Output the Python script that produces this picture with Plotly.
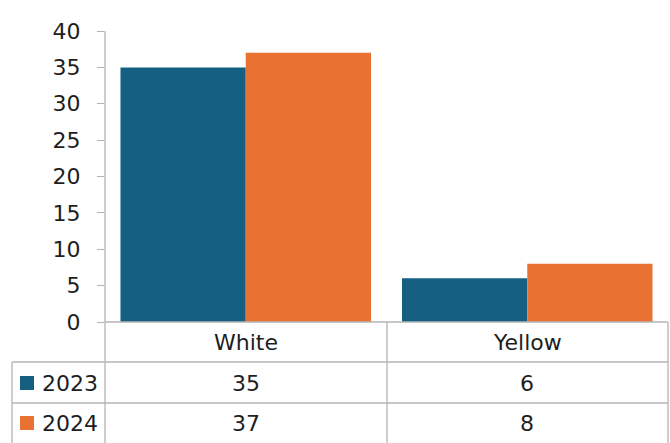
import plotly.graph_objects as go

categories = ["White", "Yellow"]
series_names = ["2023", "2024"]
values_2023 = [35, 6]
values_2024 = [37, 8]
y_ticks = [0, 5, 10, 15, 20, 25, 30, 35, 40]

colors = ["#156082", "#E97132"]
W, H = 670, 443
L, R, T, B = 105, 2, 31, 121
pw, ph = W - L - R, H - T - B
FONT = "DejaVu Sans"
TXT = "#1e1e1e"
GRID = "#b4b4b4"
FS = 22

def px(x):
    return (x - L) / pw

def py(y):
    return (H - B - y) / ph

fig = go.Figure()
for name, vals, c in zip(series_names, [values_2023, values_2024], colors):
    fig.add_trace(go.Bar(x=categories, y=vals, name=name, marker_color=c,
                         marker_line_width=0, showlegend=False))

shapes = []
def line(x0, y0, x1, y1):
    shapes.append(dict(type="line", xref="paper", yref="paper",
                       x0=px(x0), y0=py(y0), x1=px(x1), y1=py(y1),
                       line=dict(color=GRID, width=1.3)))

line(105, 31, 105, 443)
line(105, 322, 668, 322)
line(12, 362, 668, 362)
line(12, 403, 668, 403)
line(12, 362, 12, 443)
line(387, 322, 387, 443)
line(668, 322, 668, 443)

annotations = []
row_y = [383, 423]
for i, (name, vals, c) in enumerate(zip(series_names, [values_2023, values_2024], colors)):
    yc = row_y[i]
    shapes.append(dict(type="rect", xref="paper", yref="paper",
                       x0=px(20), x1=px(34), y0=py(yc + 7), y1=py(yc - 7),
                       fillcolor=c, line=dict(width=0)))
    annotations.append(dict(x=px(40), y=py(yc), xref="paper", yref="paper",
                            text=name, showarrow=False, xanchor="left", yanchor="middle",
                            font=dict(family=FONT, size=FS, color=TXT)))
    for cat, v in zip(categories, vals):
        annotations.append(dict(x=cat, y=py(yc), xref="x", yref="paper",
                                text=str(v), showarrow=False, xanchor="center", yanchor="middle",
                                font=dict(family=FONT, size=FS, color=TXT)))
for cat in categories:
    annotations.append(dict(x=cat, y=py(342), xref="x", yref="paper",
                            text=cat, showarrow=False, xanchor="center", yanchor="middle",
                            font=dict(family=FONT, size=FS, color=TXT)))

fig.update_layout(
    width=W, height=H,
    margin=dict(l=L, r=R, t=T, b=B, autoexpand=False),
    paper_bgcolor="white", plot_bgcolor="white",
    barmode="group", bargap=0.11, bargroupgap=0,
    shapes=shapes, annotations=annotations,
    xaxis=dict(showticklabels=False, showgrid=False, zeroline=False, showline=False,
               ticks=""),
    yaxis=dict(range=[0, 40], tickvals=y_ticks, showgrid=False, zeroline=False,
               showline=False, ticks="outside", ticklen=7, tickcolor=GRID, tickwidth=1.3,
               tickfont=dict(family=FONT, size=FS, color=TXT), ticklabelstandoff=12),
)

fig.write_html("out.html", config={"displayModeBar": False},
               post_script="document.body.style.margin='0';document.body.style.overflow='hidden';")
